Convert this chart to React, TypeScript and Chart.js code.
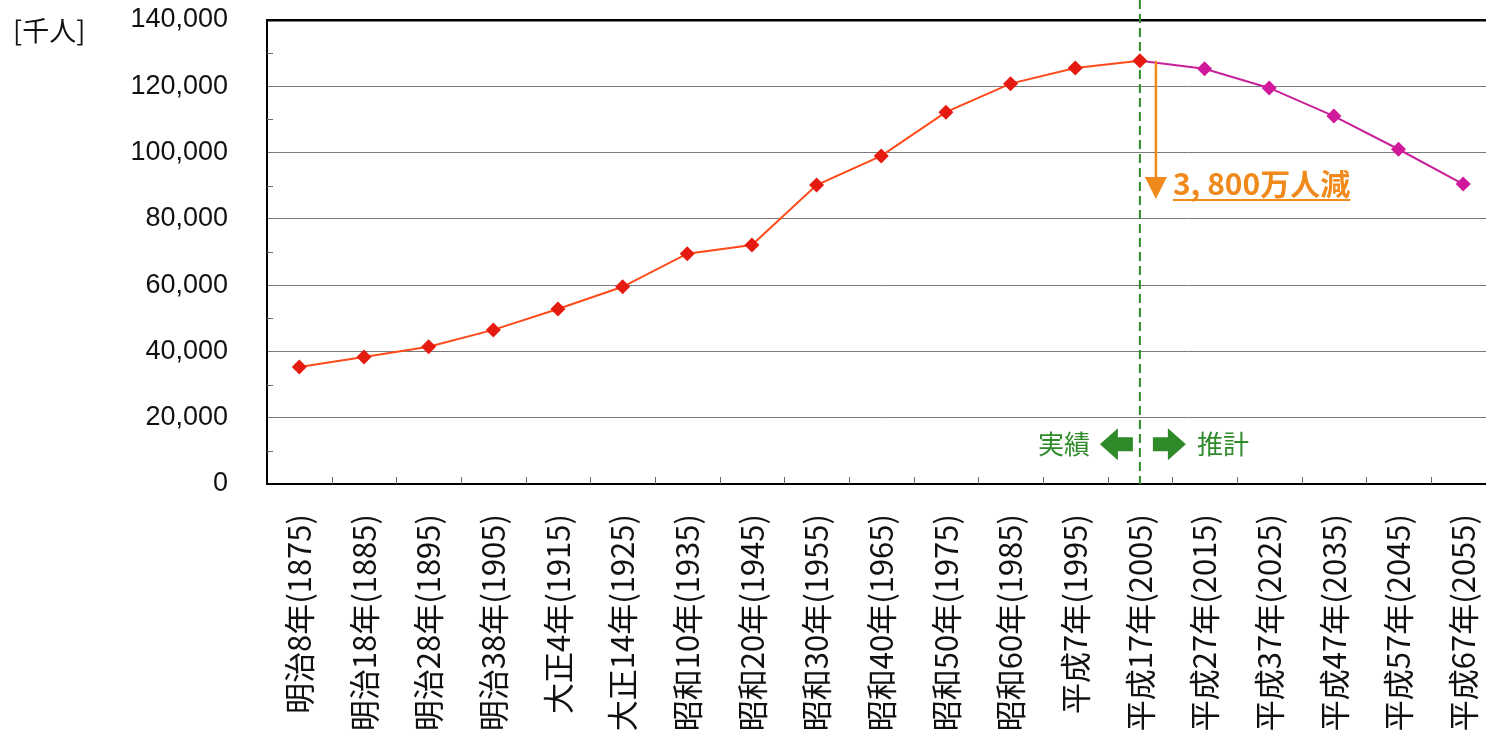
import React, { useEffect, useRef } from "react";
import { Chart, registerables } from "chart.js";

Chart.register(...registerables);

const categories = [
  "明治8年(1875)", "明治18年(1885)", "明治28年(1895)", "明治38年(1905)",
  "大正4年(1915)", "大正14年(1925)", "昭和10年(1935)", "昭和20年(1945)",
  "昭和30年(1955)", "昭和40年(1965)", "昭和50年(1975)", "昭和60年(1985)",
  "平成7年(1995)", "平成17年(2005)", "平成27年(2015)", "平成37年(2025)",
  "平成47年(2035)", "平成57年(2045)", "平成67年(2055)",
];

const actualValues = [
  35300, 38300, 41400, 46500, 52800, 59500, 69500, 72100, 90200, 99000,
  112200, 120800, 125500, 127700, null, null, null, null, null,
];

const projectedValues = [
  null, null, null, null, null, null, null, null, null, null, null, null, null,
  127700, 125300, 119500, 111000, 101000, 90500,
];

const yTickValues = [0, 20000, 40000, 60000, 80000, 100000, 120000, 140000];
const yMinorValues = [10000, 30000, 50000, 70000, 90000, 110000, 130000];

const unitLabel = "[千人]";
const decreaseLabel = "3, 800万人減";
const actualLabel = "実績";
const projectedLabel = "推計";
const splitIndex = 13;

const W = 1503;
const H = 820;

const annotationPlugin = {
  id: "annotations",
  beforeDatasetsDraw(chart: any) {
    const { ctx, chartArea, scales } = chart;
    const x = scales.x.getPixelForValue(splitIndex);
    ctx.save();
    ctx.strokeStyle = "#666";
    ctx.lineWidth = 1;
    for (const v of yMinorValues) {
      const y = Math.round(scales.y.getPixelForValue(v)) + 0.5;
      ctx.beginPath();
      ctx.moveTo(chartArea.left, y);
      ctx.lineTo(chartArea.left + 6, y);
      ctx.stroke();
    }
    const n = categories.length;
    const step = (chartArea.right - chartArea.left) / n;
    for (let i = 1; i < n; i++) {
      const bx = Math.round(chartArea.left + step * i) + 0.5;
      ctx.beginPath();
      ctx.moveTo(bx, chartArea.bottom);
      ctx.lineTo(bx, chartArea.bottom - 7);
      ctx.stroke();
    }
    ctx.strokeStyle = "#2f8a2a";
    ctx.lineWidth = 2;
    ctx.setLineDash([9, 5]);
    ctx.beginPath();
    ctx.moveTo(x, 0);
    ctx.lineTo(x, chartArea.bottom);
    ctx.stroke();
    ctx.setLineDash([]);
    ctx.restore();
  },
  afterDraw(chart: any) {
    const { ctx, scales } = chart;
    const x = scales.x.getPixelForValue(splitIndex);
    const yTop = scales.y.getPixelForValue(actualValues[splitIndex] as number);
    ctx.save();
    ctx.fillStyle = "#111";
    ctx.font = '27px "Noto Sans CJK JP", sans-serif';
    ctx.textAlign = "left";
    ctx.textBaseline = "middle";
    ctx.fillText(unitLabel, 13, 31);

    const orange = "#f08a1c";
    const ax = x + 16;
    const arrowBottom = scales.y.getPixelForValue(86000);
    ctx.strokeStyle = orange;
    ctx.fillStyle = orange;
    ctx.lineWidth = 2.5;
    ctx.beginPath();
    ctx.moveTo(ax, yTop);
    ctx.lineTo(ax, arrowBottom - 18);
    ctx.stroke();
    ctx.beginPath();
    ctx.moveTo(ax - 11, arrowBottom - 22);
    ctx.lineTo(ax + 11, arrowBottom - 22);
    ctx.lineTo(ax, arrowBottom);
    ctx.closePath();
    ctx.fill();
    ctx.font = 'bold 30px "Noto Sans CJK JP", sans-serif';
    ctx.textAlign = "left";
    ctx.textBaseline = "alphabetic";
    const tx = x + 33;
    const ty = arrowBottom - 4;
    ctx.fillText(decreaseLabel, tx, ty);
    const tw = ctx.measureText(decreaseLabel).width;
    ctx.lineWidth = 2;
    ctx.beginPath();
    ctx.moveTo(tx, ty + 5);
    ctx.lineTo(tx + tw, ty + 5);
    ctx.stroke();

    const green = "#2f8a2a";
    const gy = scales.y.getPixelForValue(12000);
    ctx.fillStyle = green;
    ctx.font = '26px "Noto Sans CJK JP", sans-serif';
    ctx.textBaseline = "middle";
    ctx.textAlign = "right";
    ctx.fillText(actualLabel, x - 50, gy);
    ctx.textAlign = "left";
    ctx.fillText(projectedLabel, x + 57, gy);
    const drawArrow = (tip: number, dir: number) => {
      const headLen = 18;
      const shaftEnd = tip + dir * 33;
      ctx.beginPath();
      ctx.moveTo(tip, gy);
      ctx.lineTo(tip + dir * headLen, gy - 16);
      ctx.lineTo(tip + dir * headLen, gy - 7);
      ctx.lineTo(shaftEnd, gy - 7);
      ctx.lineTo(shaftEnd, gy + 7);
      ctx.lineTo(tip + dir * headLen, gy + 7);
      ctx.lineTo(tip + dir * headLen, gy + 16);
      ctx.closePath();
      ctx.fill();
    };
    drawArrow(x - 40, 1);
    drawArrow(x + 46, -1);
    ctx.restore();
  },
};

export default function App() {
  const ref = useRef<HTMLCanvasElement | null>(null);
  useEffect(() => {
    if (!ref.current) return;
    const chart = new Chart(ref.current, {
      type: "line",
      data: {
        labels: categories,
        datasets: [
          {
            data: actualValues,
            borderColor: "#ff4a1a",
            backgroundColor: "#e51a10",
            borderWidth: 2,
            pointStyle: "rectRot",
            pointRadius: 7.5,
            pointBorderWidth: 0,
            pointBackgroundColor: "#e51a10",
            spanGaps: false,
          },
          {
            data: projectedValues,
            borderColor: "#c8209a",
            backgroundColor: "#d0189b",
            borderWidth: 2,
            pointStyle: "rectRot",
            pointRadius: (c: any) => (c.dataIndex === splitIndex ? 0 : 7.5),
            pointBorderWidth: 0,
            pointBackgroundColor: "#d0189b",
          },
        ],
      },
      options: {
        responsive: false,
        animation: false,
        devicePixelRatio: 1,
        layout: { padding: { top: 20, left: 0, right: 0, bottom: 0 } },
        plugins: {
          legend: { display: false },
          tooltip: { enabled: false },
          title: { display: false },
        },
        scales: {
          x: {
            type: "category",
            offset: true,
            afterFit: (scale: any) => {
              scale.height = H - 484;
              scale.paddingLeft = 0;
              scale.paddingRight = 0;
            },
            grid: { display: true, drawOnChartArea: false, drawTicks: false, offset: true },
            border: { display: true, color: "#000", width: 2 },
            ticks: {
              autoSkip: false,
              minRotation: 90,
              maxRotation: 90,
              padding: 30,
              color: "#111",
              font: { family: '"Noto Sans CJK JP", sans-serif', size: 31 },
            },
          },
          y: {
            min: 0,
            max: 140000,
            afterFit: (scale: any) => {
              scale.width = 267;
              scale.paddingTop = 0;
              scale.paddingBottom = 0;
            },
            afterBuildTicks: (scale: any) => {
              scale.ticks = yTickValues.map((v) => ({ value: v }));
            },
            grid: {
              drawTicks: false,
              color: (c: any) => (c.tick && c.tick.value === 140000 ? "#000" : "#7a7a7a"),
              lineWidth: (c: any) => (c.tick && c.tick.value === 140000 ? 2.5 : 1),
            },
            border: { display: true, color: "#000", width: 2 },
            ticks: {
              padding: 39,
              color: "#111",
              font: { family: '"Liberation Sans", Arial, sans-serif', size: 27 },
              callback: (v: any) => Number(v).toLocaleString("en-US"),
            },
          },
        },
      },
      plugins: [annotationPlugin],
    } as any);
    return () => chart.destroy();
  }, []);
  return (
    <div style={{ position: "fixed", left: 0, top: 0, width: 1486, height: 734, overflow: "hidden", background: "#fff" }}>
      <canvas ref={ref} width={W} height={H} style={{ display: "block", width: W, height: H }} />
    </div>
  );
}
